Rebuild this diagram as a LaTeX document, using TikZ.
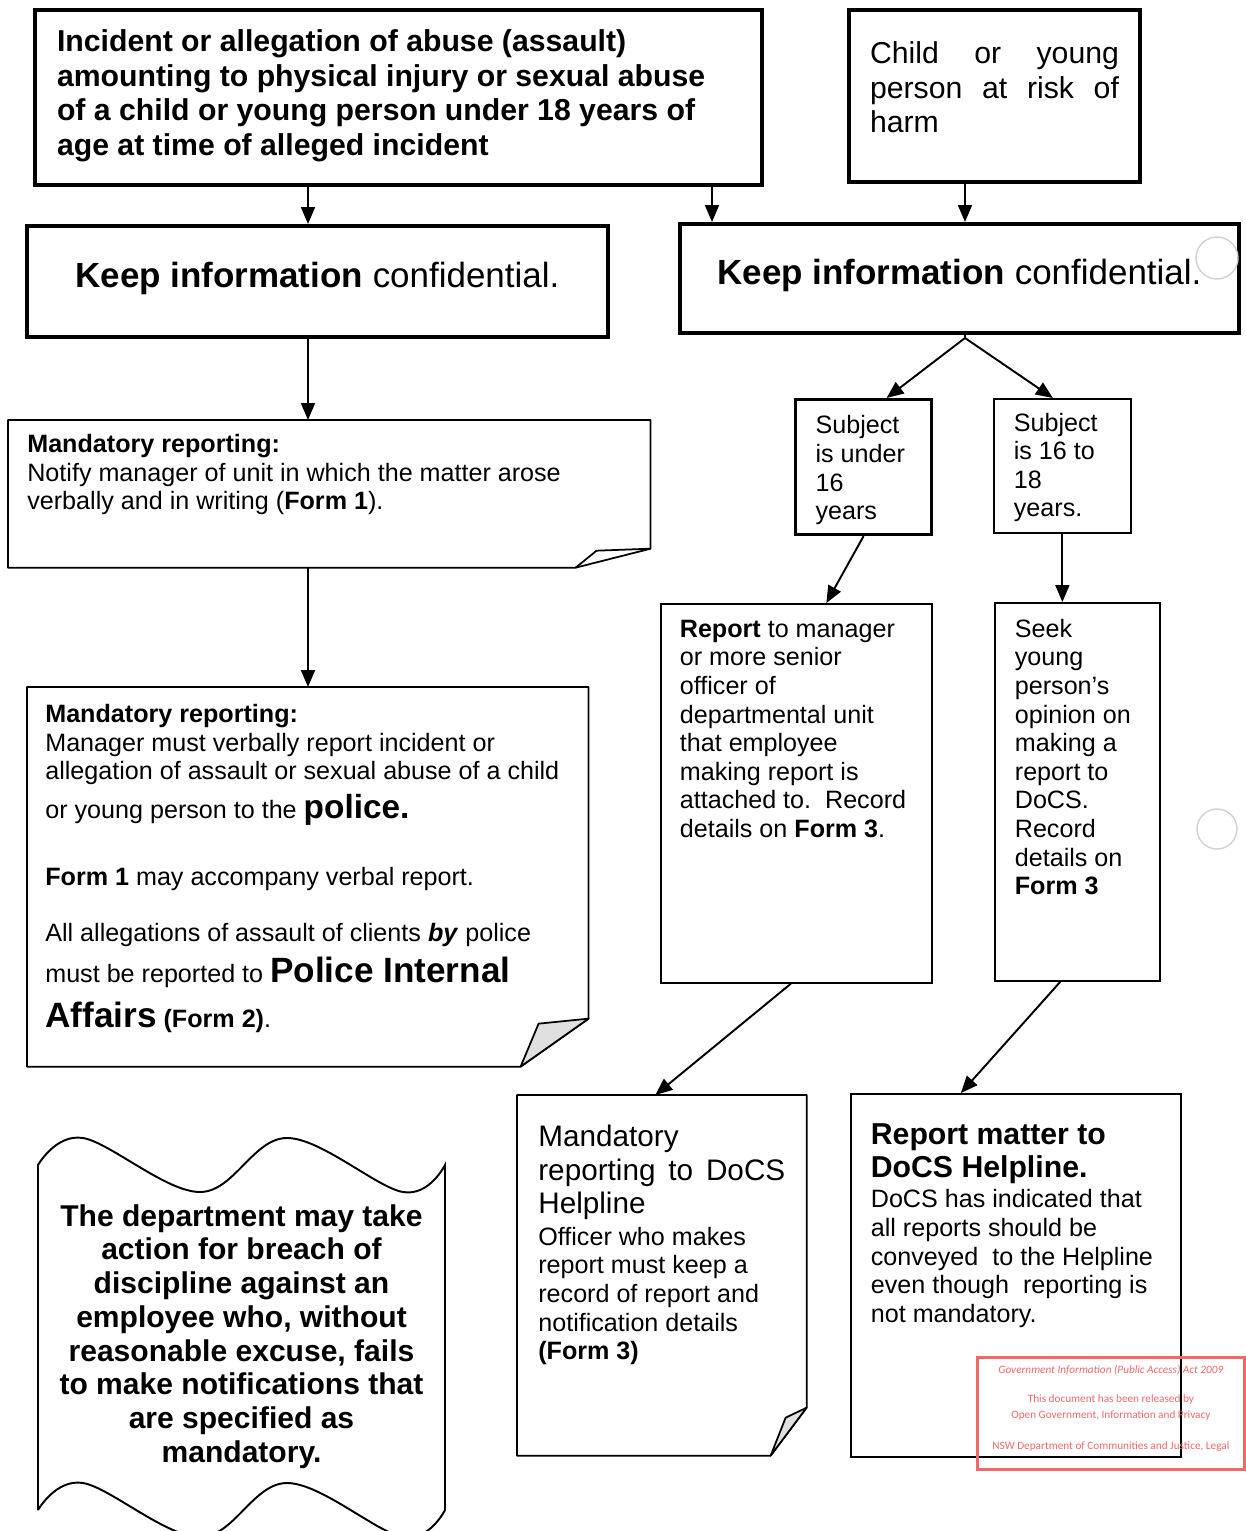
\documentclass[tikz,border=0pt]{standalone}
\usepackage{fontspec}
\setmainfont{Liberation Sans}
\newfontfamily\stampfont{Carlito}
\usetikzlibrary{arrows.meta}
\definecolor{stampred}{RGB}{240,105,105}
\begin{document}
\begin{tikzpicture}
    [x=0.02cm,y=-0.02cm,
    thickbox/.style={draw,line width=2.3pt,anchor=north west},
    midbox/.style={draw,line width=1.8pt,anchor=north west},
    thinbox/.style={draw,line width=1pt,anchor=north west},
    foldbox/.style={anchor=north west},
    fold/.style={line width=1pt,line join=round},
    txt/.style={font={\fontsize{14.3}{16.3}\selectfont\normalbaselineskip=16.3pt\lineskiplimit=-10cm}},
    bigtxt/.style={font={\fontsize{17.2}{19.6}\selectfont\normalbaselineskip=19.6pt\lineskiplimit=-10cm}},
    keeptxt/.style={font=\fontsize{19.9}{24}\selectfont,text depth=0.27cm},
    warntxt/.style={font={\fontsize{17.1}{19.2}\selectfont\bfseries\normalbaselineskip=19.2pt\lineskiplimit=-10cm}},
    stamptxt/.style={text=stampred,font={\stampfont\fontsize{6.4}{9.1}\selectfont\normalbaselineskip=9.1pt\lineskiplimit=-10cm}},
    arr/.style={line width=1.1pt,-{Triangle[length=0.34cm,width=0.28cm]}}]
    \useasboundingbox (0,0) rectangle (1245,1531);
    %top boxes
    \node[thickbox,inner xsep=0.44cm,inner ysep=0.4cm,bigtxt] (incident) at (33,8)
    {\parbox[t][2.7cm][t]{13.66cm}{\bfseries Incident or allegation of abuse (assault)\\
    amounting to physical injury or sexual abuse\\
    of a child or young person under 18 years of\\
    age at time of alleged incident}};
    \node[thickbox,inner xsep=0.42cm,inner ysep=0.64cm,bigtxt] (risk) at (847,8)
    {\parbox[t][2.16cm][t]{4.98cm}{Child\hfill or\hfill young\\
    person\hfill at\hfill risk\hfill of\\
    harm}};
    %keep information confidential
    \node[thickbox,minimum width=11.62cm,minimum height=2.22cm,inner sep=0pt,keeptxt] (keepL) at (25,224)
    {\textbf{Keep information} confidential.};
    \node[thickbox,minimum width=11.18cm,minimum height=2.18cm,inner sep=0pt,keeptxt] (keepR) at (678,222)
    {\textbf{Keep information} confidential.};
    %left column
    \node[foldbox,inner xsep=0.38cm,inner ysep=0.28cm,txt] (notify) at (8,420)
    {\parbox[t][2.38cm][t]{12.08cm}{\textbf{Mandatory reporting:}\\
    Notify manager of unit in which the matter arose\\
    verbally and in writing (\textbf{Form 1}).}};
    \draw[fold] (notify.north west) -- (notify.north east) -- ([yshift=0.38cm]notify.south east)
    -- ([xshift=-1.5cm]notify.south east) -- (notify.south west) -- cycle;
    \draw[fold] ([xshift=-1.5cm]notify.south east) -- ([xshift=-1.08cm,yshift=0.34cm]notify.south east)
    -- ([yshift=0.38cm]notify.south east);
    \node[foldbox,inner xsep=0.36cm,inner ysep=0.34cm,txt] (police) at (27,687)
    {\parbox[t][6.9cm][t]{10.5cm}{\textbf{Mandatory reporting:}\\
    Manager must verbally report incident or\\
    allegation of assault or sexual abuse of a child\\[0.15cm]
    or young person to the {\fontsize{19}{16.3}\selectfont\bfseries police.}\\[0.77cm]
    \textbf{Form 1} may accompany verbal report.\\[0.55cm]
    All allegations of assault of clients \textbf{\itshape by} police\\[0.17cm]
    must be reported to {\fontsize{20}{16.3}\selectfont\bfseries Police Internal}\\[0.25cm]
    {\fontsize{20}{16.3}\selectfont\bfseries Affairs} \textbf{(Form 2)}.}};
    \draw[fold] (police.north west) -- (police.north east) -- ([yshift=0.96cm]police.south east)
    -- ([xshift=-1.36cm]police.south east) -- (police.south west) -- cycle;
    \draw[fold,fill=black!12] ([xshift=-1.36cm]police.south east) -- ([xshift=-1cm,yshift=0.86cm]police.south east)
    -- ([yshift=0.96cm]police.south east) -- cycle;
    %warning
    \draw[line width=1.1pt] (38,1510) -- plot[smooth,tension=0.6] coordinates
    {(38,1165) (83,1138) (200,1192) (287,1138) (403,1192) (445,1165)}
    -- plot[smooth,tension=0.6] coordinates
    {(445,1510) (403,1537) (287,1483) (200,1537) (83,1483) (38,1510)};
    \node[warntxt,anchor=north,inner sep=0pt] (warning) at (241.5,1204)
    {\parbox[t]{8.1cm}{\centering The department may take\\
    action for breach of\\
    discipline against an\\
    employee who, without\\
    reasonable excuse, fails\\
    to make notifications that\\
    are specified as\\
    mandatory.}};
    %right column
    \coordinate (split) at (965,338);
    \node[midbox,inner xsep=0.4cm,inner ysep=0.32cm,txt] (under) at (794,398)
    {\parbox[t][2.06cm][t]{1.92cm}{Subject\\ is under\\ 16\\ years}};
    \node[thinbox,inner xsep=0.4cm,inner ysep=0.28cm,txt] (over) at (993,398)
    {\parbox[t][2.12cm][t]{1.94cm}{Subject\\ is 16 to\\ 18\\ years.}};
    \node[thinbox,inner xsep=0.38cm,inner ysep=0.32cm,txt] (manager) at (660,603)
    {\parbox[t][6.94cm][t]{4.66cm}{\textbf{Report} to manager\\
    or more senior\\
    officer of\\
    departmental unit\\
    that employee\\
    making report is\\
    attached to.\ \ Record\\
    details on \textbf{Form 3}.}};
    \node[thinbox,inner xsep=0.4cm,inner ysep=0.32cm,txt] (opinion) at (994,602)
    {\parbox[t][6.92cm][t]{2.5cm}{Seek\\ young\\ person's\\ opinion on\\ making a\\
    report to\\ DoCS.\\ Record\\ details on\\ \textbf{Form 3}}};
    \node[foldbox,inner xsep=0.42cm,inner ysep=0.6cm,txt] (docs) at (517,1095)
    {\parbox[t][6cm][t]{4.94cm}{{\fontsize{16.9}{16.3}\selectfont Mandatory\\[0.09cm]
    \makebox[4.94cm][s]{reporting to DoCS}\\[0.09cm]
    Helpline}\\[0.07cm]
    Officer who makes\\
    report must keep a\\
    record of report and\\
    notification details\\
    \textbf{(Form 3)}}};
    \draw[fold] (docs.north west) -- (docs.north east) -- ([yshift=0.96cm]docs.south east)
    -- ([xshift=-0.72cm]docs.south east) -- (docs.south west) -- cycle;
    \draw[fold,fill=black!12] ([xshift=-0.72cm]docs.south east) -- ([xshift=-0.42cm,yshift=0.76cm]docs.south east)
    -- ([yshift=0.96cm]docs.south east) -- cycle;
    \node[thinbox,inner xsep=0.4cm,inner ysep=0.6cm,txt] (helpline) at (850,1093)
    {\parbox[t][6.06cm][t]{5.8cm}{{\fontsize{17.2}{16.3}\selectfont\bfseries Report matter to\\[0.09cm]
    DoCS Helpline.}\\[0.03cm]
    DoCS has indicated that\\
    all reports should be\\
    conveyed\ \ to the Helpline\\
    even though\ \ reporting is\\
    not mandatory.}};
    %arrows
    \coordinate (lcol) at (308,0);
    \coordinate (rin) at (712,0);
    \coordinate (rrisk) at (965,0);
    \draw[arr] (lcol |- incident.south) -- (lcol |- keepL.north);
    \draw[arr] (lcol |- keepL.south) -- (lcol |- notify.north);
    \draw[arr] (lcol |- notify.south) -- (lcol |- police.north);
    \draw[arr] (rin |- incident.south) -- (rin |- keepR.north);
    \draw[arr] (rrisk |- risk.south) -- (rrisk |- keepR.north);
    \draw[line width=1.1pt] (rrisk |- keepR.south) -- (split);
    \draw[arr] (split) -- ([xshift=0.46cm]under.north);
    \draw[arr] (split) -- ([xshift=-0.19cm]over.north);
    \draw[arr] (under.south) -- ([xshift=0.6cm]manager.north);
    \draw[arr] (over.south) -- (over.south |- opinion.north);
    \draw[arr] ([xshift=-0.11cm]manager.south) -- ([xshift=-0.13cm]docs.north);
    \draw[arr] ([xshift=-0.34cm]opinion.south) -- ([xshift=-1.1cm]helpline.north);
    %punch holes
    \draw[black!18,line width=0.8pt] (1217,258) circle[radius=0.42cm];
    \draw[black!18,line width=0.8pt] (1217,829) circle[radius=0.4cm];
    %stamp
    \node[draw=stampred,line width=1.6pt,anchor=north west,inner xsep=0pt,inner ysep=0.16cm,stamptxt] (stamp) at (976,1356)
    {\parbox[t][1.92cm][t]{5.34cm}{\centering\textit{Government Information (Public Access) Act 2009}\\[0.26cm]
    This document has been released by\\
    Open Government, Information and Privacy\\[0.3cm]
    NSW Department of Communities and Justice, Legal}};
\end{tikzpicture}
\end{document}
